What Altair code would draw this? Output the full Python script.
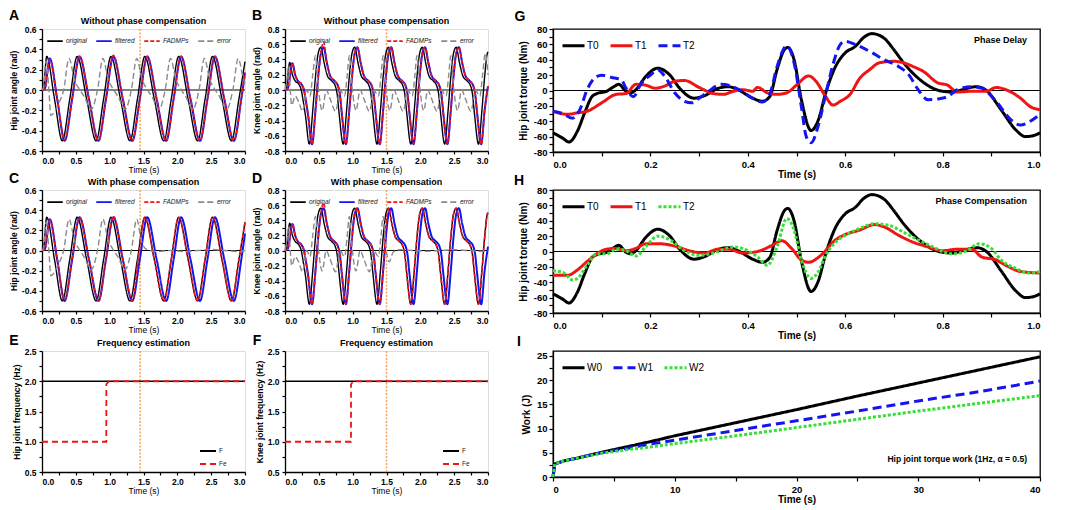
import altair as alt
import pandas as pd

FONT = "Liberation Sans"

# ---------------- tick values ----------------
X3_TICKS = [0.0, 0.25, 0.5, 0.75, 1.0, 1.25, 1.5, 1.75, 2.0, 2.25, 2.5, 2.75, 3.0]
HIP_Y_TICKS = [-0.6, -0.5, -0.4, -0.3, -0.2, -0.1, 0.0, 0.1, 0.2, 0.3, 0.4, 0.5, 0.6]
KNEE_Y_TICKS = [-0.8, -0.7, -0.6, -0.5, -0.4, -0.3, -0.2, -0.1, 0.0, 0.1, 0.2, 0.3, 0.4, 0.5, 0.6, 0.7, 0.8]
FREQ_Y_TICKS = [0.5, 0.75, 1.0, 1.25, 1.5, 1.75, 2.0, 2.25, 2.5]
X1_TICKS = [0.0, 0.1, 0.2, 0.3, 0.4, 0.5, 0.6, 0.7, 0.8, 0.9, 1.0]
TORQUE_Y_TICKS = [-80, -70, -60, -50, -40, -30, -20, -10, 0, 10, 20, 30, 40, 50, 60, 70, 80]
WORK_X_TICKS = [0, 5, 10, 15, 20, 25, 30, 35, 40]
WORK_Y_TICKS = [0, 2.5, 5, 7.5, 10, 12.5, 15, 17.5, 20, 22.5, 25]

# ---------------- hip angle (A, C) ----------------
HIP_ORIG_T = [0.00, 0.02, 0.07, 0.185, 0.30, 0.41, 0.52, 0.66, 0.80, 0.91, 1.02, 1.16, 1.30, 1.41,
              1.52, 1.66, 1.80, 1.91, 2.02, 2.16, 2.30, 2.41, 2.52, 2.66, 2.80, 2.91, 3.00]
HIP_ORIG_V = [0.00, 0.01, 0.33, -0.09, -0.50, -0.09, 0.33, -0.09, -0.50, -0.09, 0.33, -0.09, -0.50, -0.09,
              0.33, -0.09, -0.50, -0.09, 0.33, -0.09, -0.50, -0.09, 0.33, -0.09, -0.50, -0.09, 0.28]
HIP_FILT_T = [0.00, 0.04, 0.115, 0.225, 0.335, 0.445, 0.555, 0.695, 0.835, 0.945, 1.055, 1.195, 1.335, 1.445,
              1.555, 1.695, 1.835, 1.945, 2.055, 2.195, 2.335, 2.445, 2.555, 2.695, 2.835, 2.945, 3.00]
HIP_FILT_V = [0.00, 0.01, 0.31, -0.09, -0.50, -0.09, 0.33, -0.09, -0.50, -0.09, 0.33, -0.09, -0.50, -0.09,
              0.33, -0.09, -0.50, -0.09, 0.33, -0.09, -0.50, -0.09, 0.33, -0.09, -0.50, -0.09, 0.17]
HIP_FAD_A_V = [0.00, 0.01, 0.30, -0.09, -0.49, -0.09, 0.33, -0.09, -0.50, -0.09, 0.34, -0.09, -0.50, -0.09,
               0.33, -0.09, -0.50, -0.09, 0.33, -0.09, -0.50, -0.09, 0.33, -0.09, -0.50, -0.09, 0.17]
HIP_FAD_C_T = [0.00, 0.04, 0.115, 0.225, 0.335, 0.445, 0.555, 0.695, 0.835, 0.945, 1.055, 1.195, 1.335, 1.43,
               1.52, 1.66, 1.80, 1.91, 2.02, 2.16, 2.30, 2.41, 2.52, 2.66, 2.80, 2.91, 3.00]
HIP_FAD_C_V = [0.00, 0.01, 0.30, -0.09, -0.49, -0.09, 0.33, -0.09, -0.50, -0.09, 0.34, -0.09, -0.50, -0.04,
               0.33, -0.09, -0.50, -0.09, 0.33, -0.09, -0.50, -0.09, 0.33, -0.09, -0.50, -0.09, 0.28]
HIP_ERR_A_T = [0.00, 0.02, 0.06, 0.10, 0.13, 0.24, 0.32,
               0.40, 0.48, 0.55, 0.62, 0.73, 0.82,
               0.90, 0.98, 1.05, 1.12, 1.23, 1.32,
               1.40, 1.48, 1.55, 1.62, 1.73, 1.82,
               1.90, 1.98, 2.05, 2.12, 2.23, 2.32,
               2.40, 2.48, 2.55, 2.62, 2.73, 2.82,
               2.90, 2.98, 3.00]
HIP_ERR_A_V = [0.00, 0.02, 0.28, 0.02, -0.25, -0.14, 0.00,
               0.31, 0.10, 0.01, -0.06, -0.19, 0.00,
               0.31, 0.10, 0.01, -0.06, -0.19, 0.00,
               0.31, 0.10, 0.01, -0.06, -0.19, 0.00,
               0.31, 0.10, 0.01, -0.06, -0.19, 0.00,
               0.31, 0.10, 0.01, -0.06, -0.19, 0.00,
               0.31, 0.10, 0.07]
HIP_ERR_C_T = [0.00, 0.02, 0.06, 0.10, 0.13, 0.24, 0.32,
               0.40, 0.48, 0.55, 0.62, 0.73, 0.82,
               0.90, 0.98, 1.05, 1.12, 1.23, 1.32,
               1.40, 1.47, 1.55, 1.70, 1.90, 2.10, 2.30, 2.50, 2.70, 2.90, 3.00]
HIP_ERR_C_V = [0.00, 0.02, 0.28, 0.02, -0.25, -0.14, 0.00,
               0.31, 0.10, 0.01, -0.06, -0.19, 0.00,
               0.31, 0.10, 0.01, -0.06, -0.19, 0.00,
               0.31, 0.09, 0.01, -0.01, 0.00, -0.01, 0.00, 0.01, 0.00, -0.01, 0.00]

# ---------------- knee angle (B, D) ----------------
KNEE_ORIG_T = [0.00, 0.02, 0.07, 0.11, 0.15, 0.20, 0.24, 0.27, 0.30, 0.36, 0.41, 0.45, 0.49,
               0.53, 0.58, 0.63, 0.69, 0.74, 0.77, 0.80, 0.86, 0.91, 0.95, 0.99,
               1.03, 1.08, 1.13, 1.19, 1.24, 1.27, 1.30, 1.36, 1.41, 1.45, 1.49,
               1.53, 1.58, 1.63, 1.69, 1.74, 1.77, 1.80, 1.86, 1.91, 1.95, 1.99,
               2.03, 2.08, 2.13, 2.19, 2.24, 2.27, 2.30, 2.36, 2.41, 2.45, 2.49,
               2.53, 2.58, 2.63, 2.69, 2.74, 2.77, 2.80, 2.86, 2.91, 2.95, 2.99,
               3.00]
KNEE_ORIG_V = [0.00, 0.02, 0.36, 0.20, 0.12, 0.08, 0.00, -0.15, -0.32, -0.71, -0.27, 0.17, 0.48,
               0.56, 0.35, 0.18, 0.12, 0.06, -0.05, -0.31, -0.71, -0.27, 0.17, 0.48,
               0.56, 0.35, 0.18, 0.12, 0.06, -0.05, -0.31, -0.71, -0.27, 0.17, 0.48,
               0.56, 0.35, 0.18, 0.12, 0.06, -0.05, -0.31, -0.71, -0.27, 0.17, 0.48,
               0.56, 0.35, 0.18, 0.12, 0.06, -0.05, -0.31, -0.71, -0.27, 0.17, 0.48,
               0.56, 0.35, 0.18, 0.12, 0.06, -0.05, -0.31, -0.71, -0.27, 0.17, 0.48,
               0.50]
KNEE_FILT_T = [0.00, 0.04, 0.11, 0.15, 0.19, 0.24, 0.28, 0.31, 0.34, 0.40, 0.45, 0.49, 0.53,
               0.57, 0.62, 0.67, 0.73, 0.78, 0.81, 0.84, 0.90, 0.95, 0.99, 1.03,
               1.07, 1.12, 1.17, 1.23, 1.28, 1.31, 1.34, 1.40, 1.45, 1.49, 1.53,
               1.57, 1.62, 1.67, 1.73, 1.78, 1.81, 1.84, 1.90, 1.95, 1.99, 2.03,
               2.07, 2.12, 2.17, 2.23, 2.28, 2.31, 2.34, 2.40, 2.45, 2.49, 2.53,
               2.57, 2.62, 2.67, 2.73, 2.78, 2.81, 2.84, 2.90, 2.95, 3.00]
KNEE_FILT_V = [0.00, 0.02, 0.35, 0.20, 0.12, 0.08, 0.00, -0.15, -0.32, -0.71, -0.27, 0.17, 0.48,
               0.56, 0.35, 0.18, 0.12, 0.06, -0.05, -0.31, -0.71, -0.27, 0.17, 0.48,
               0.56, 0.35, 0.18, 0.12, 0.06, -0.05, -0.31, -0.71, -0.27, 0.17, 0.48,
               0.56, 0.35, 0.18, 0.12, 0.06, -0.05, -0.31, -0.71, -0.27, 0.17, 0.48,
               0.56, 0.35, 0.18, 0.12, 0.06, -0.05, -0.31, -0.71, -0.27, 0.17, 0.48,
               0.56, 0.35, 0.18, 0.12, 0.06, -0.05, -0.31, -0.71, -0.27, 0.05]
KNEE_FAD_B_V = [0.00, 0.02, 0.35, 0.20, 0.12, 0.08, 0.00, -0.15, -0.32, -0.71, -0.27, 0.17, 0.48,
                0.63, 0.35, 0.18, 0.12, 0.06, -0.05, -0.31, -0.71, -0.27, 0.17, 0.48,
                0.56, 0.35, 0.18, 0.12, 0.06, -0.05, -0.31, -0.71, -0.27, 0.17, 0.48,
                0.56, 0.35, 0.18, 0.12, 0.06, -0.05, -0.31, -0.71, -0.27, 0.17, 0.48,
                0.56, 0.35, 0.18, 0.12, 0.06, -0.05, -0.31, -0.71, -0.27, 0.17, 0.48,
                0.56, 0.35, 0.18, 0.12, 0.06, -0.05, -0.31, -0.71, -0.27, 0.05]
KNEE_FAD_D_T = [0.00, 0.04, 0.11, 0.15, 0.19, 0.24, 0.28, 0.31, 0.34, 0.40, 0.45, 0.49, 0.53,
                0.57, 0.62, 0.67, 0.73, 0.78, 0.81, 0.84, 0.90, 0.95, 0.99, 1.03,
                1.07, 1.12, 1.17, 1.23, 1.28, 1.31, 1.34, 1.40, 1.45, 1.49, 1.53,
                1.58, 1.63, 1.69, 1.74, 1.77, 1.80, 1.86, 1.91, 1.95, 1.99,
                2.03, 2.08, 2.13, 2.19, 2.24, 2.27, 2.30, 2.36, 2.41, 2.45, 2.49,
                2.53, 2.58, 2.63, 2.69, 2.74, 2.77, 2.80, 2.86, 2.91, 2.95, 2.99,
                3.00]
KNEE_FAD_D_V = [0.00, 0.02, 0.35, 0.20, 0.12, 0.08, 0.00, -0.15, -0.32, -0.71, -0.27, 0.17, 0.48,
                0.63, 0.35, 0.18, 0.12, 0.06, -0.05, -0.31, -0.71, -0.27, 0.17, 0.48,
                0.56, 0.35, 0.18, 0.12, 0.06, -0.05, -0.31, -0.71, -0.27, 0.30, 0.56,
                0.35, 0.18, 0.12, 0.06, -0.05, -0.31, -0.71, -0.27, 0.17, 0.48,
                0.56, 0.35, 0.18, 0.12, 0.06, -0.05, -0.31, -0.71, -0.27, 0.17, 0.48,
                0.56, 0.35, 0.18, 0.12, 0.06, -0.05, -0.31, -0.71, -0.27, 0.17, 0.48,
                0.50]
KNEE_ERR_B_T = [0.00, 0.03, 0.05, 0.10, 0.15, 0.20, 0.26, 0.32, 0.37, 0.41,
                0.45, 0.49, 0.55, 0.61, 0.66, 0.75, 0.81, 0.88, 0.92,
                0.95, 0.99, 1.05, 1.11, 1.16, 1.25, 1.31, 1.38, 1.42,
                1.45, 1.49, 1.55, 1.61, 1.66, 1.75, 1.81, 1.88, 1.92,
                1.95, 1.99, 2.05, 2.11, 2.16, 2.25, 2.31, 2.38, 2.42,
                2.45, 2.49, 2.55, 2.61, 2.66, 2.75, 2.81, 2.88, 2.92,
                2.96, 3.00]
KNEE_ERR_B_V = [0.00, 0.15, 0.30, -0.20, -0.08, -0.15, -0.28, 0.00, -0.08, 0.20,
                0.45, 0.05, -0.27, 0.00, -0.10, -0.28, 0.00, -0.08, 0.20,
                0.45, 0.05, -0.27, 0.00, -0.10, -0.28, 0.00, -0.08, 0.20,
                0.45, 0.05, -0.27, 0.00, -0.10, -0.28, 0.00, -0.08, 0.20,
                0.45, 0.05, -0.27, 0.00, -0.10, -0.28, 0.00, -0.08, 0.20,
                0.45, 0.05, -0.27, 0.00, -0.10, -0.28, 0.00, -0.08, 0.20,
                0.48, 0.20]
KNEE_ERR_D_T = [0.00, 0.03, 0.05, 0.10, 0.15, 0.20, 0.26, 0.32, 0.37, 0.41,
                0.45, 0.49, 0.55, 0.61, 0.66, 0.75, 0.81, 0.88, 0.92,
                0.95, 0.99, 1.05, 1.11, 1.16, 1.25, 1.31, 1.38, 1.42,
                1.45, 1.49, 1.54, 1.60, 1.70, 1.90, 2.10, 2.30, 2.50, 2.70, 2.90, 3.00]
KNEE_ERR_D_V = [0.00, 0.15, 0.30, -0.20, -0.08, -0.15, -0.28, 0.00, -0.08, 0.20,
                0.45, 0.05, -0.27, 0.00, -0.10, -0.28, 0.00, -0.08, 0.20,
                0.45, 0.05, -0.27, 0.00, -0.10, -0.28, 0.00, -0.08, 0.20,
                0.45, 0.05, -0.15, -0.02, 0.01, 0.00, -0.01, 0.00, 0.01, 0.00, -0.01, 0.00]

# ---------------- frequency estimation (E, F) ----------------
F_T = [0.0, 3.0]
F_V = [2.0, 2.0]
FE_E_T = [0.0, 0.95, 0.951, 0.99, 3.0]
FE_E_V = [1.0, 1.0, 1.95, 2.0, 2.0]
FE_F_T = [0.0, 0.975, 0.976, 1.01, 3.0]
FE_F_V = [1.0, 1.0, 1.95, 2.0, 2.0]

# ---------------- hip torque (G, H) ----------------
T0_T = [0.00, 0.02, 0.033, 0.05, 0.065, 0.08, 0.09, 0.11, 0.125, 0.135, 0.15, 0.16, 0.17, 0.19, 0.215,
        0.24, 0.26, 0.29, 0.31, 0.34, 0.36, 0.38, 0.41, 0.43, 0.445, 0.46, 0.475, 0.482, 0.495, 0.51,
        0.53, 0.545, 0.56, 0.58, 0.60, 0.62, 0.64, 0.655, 0.68, 0.70, 0.72, 0.75, 0.78, 0.80, 0.82,
        0.84, 0.87, 0.89, 0.92, 0.95, 0.97, 0.99, 1.00]
T0_V = [-55, -62, -67, -53, -29, -8, -4, -1, 5, 8, -1, -3, 1, 18, 29,
        20, 3, -10, -7, 3, 5, 1, -10, -14, -8, 27, 53, 56, 40, -12,
        -52, -38, -3, 31, 49, 57, 70, 74, 68, 53, 36, 16, 3, -1, -2,
        1, 5, 0, -25, -51, -60, -58, -55]
T1_DELAY_T = [0.00, 0.03, 0.05, 0.07, 0.10, 0.13, 0.15, 0.17, 0.19, 0.21, 0.23, 0.25, 0.27, 0.30, 0.33,
              0.35, 0.37, 0.39, 0.41, 0.42, 0.44, 0.46, 0.48, 0.50, 0.525, 0.54, 0.56, 0.575, 0.59, 0.61,
              0.63, 0.65, 0.67, 0.70, 0.72, 0.74, 0.76, 0.79, 0.81, 0.83, 0.86, 0.89, 0.91, 0.93, 0.96,
              0.98, 1.00]
T1_DELAY_V = [-27, -31, -29, -27, -16, -5, -4, 8, 7, 3, 6, 12, 13, 4, -4,
              -5, -1, 1, -1, 4, -3, -5, -3, 7, 19, 12, -8, -19, -14, -5,
              16, 27, 36, 38, 36, 31, 25, 10, 7, -2, -1, -1, 4, 1, -10,
              -21, -25]
T2_DELAY_T = [0.00, 0.02, 0.04, 0.055, 0.07, 0.085, 0.10, 0.12, 0.14, 0.15, 0.165, 0.18, 0.20, 0.215, 0.23,
              0.25, 0.27, 0.285, 0.30, 0.32, 0.345, 0.37, 0.39, 0.41, 0.43, 0.445, 0.46, 0.48, 0.495, 0.51,
              0.52, 0.53, 0.545, 0.56, 0.575, 0.59, 0.60, 0.62, 0.65, 0.68, 0.71, 0.73, 0.75, 0.77, 0.79,
              0.81, 0.83, 0.86, 0.88, 0.91, 0.94, 0.96, 0.98, 1.00]
T2_DELAY_V = [-27, -30, -36, -25, 1, 16, 20, 17, 14, 3, -8, 8, 20, 27, 18,
              -3, -14, -16, -10, -1, 8, 5, -2, -10, -15, -5, 31, 58, 36, -21,
              -60, -68, -45, -5, 34, 60, 64, 60, 51, 40, 31, 21, 1, -12, -11,
              -8, 1, 5, 3, -14, -38, -45, -40, -31]
T1_COMP_T = [0.00, 0.03, 0.05, 0.07, 0.09, 0.11, 0.13, 0.15, 0.17, 0.19, 0.22, 0.25, 0.28, 0.31, 0.34,
             0.36, 0.39, 0.42, 0.45, 0.47, 0.49, 0.51, 0.525, 0.55, 0.58, 0.60, 0.63, 0.66, 0.68, 0.71,
             0.74, 0.77, 0.80, 0.83, 0.86, 0.88, 0.91, 0.93, 0.96, 1.00]
T1_COMP_V = [-31, -31, -24, -13, -3, 3, 4, 1, 4, 10, 10, 7, 1, -2, 3,
             3, -2, 0, 8, 14, 4, -11, -14, -5, 15, 22, 28, 35, 32, 21,
             12, 6, 1, 3, 3, -7, -11, -18, -26, -28]
T2_COMP_T = [0.00, 0.02, 0.04, 0.05, 0.07, 0.09, 0.11, 0.13, 0.15, 0.17, 0.19, 0.215, 0.24, 0.27, 0.30,
             0.33, 0.37, 0.40, 0.42, 0.44, 0.46, 0.48, 0.495, 0.51, 0.53, 0.545, 0.56, 0.58, 0.60, 0.63,
             0.66, 0.69, 0.72, 0.75, 0.78, 0.80, 0.82, 0.85, 0.875, 0.90, 0.92, 0.95, 0.98, 1.00]
T2_COMP_V = [-25, -27, -37, -35, -18, -3, -3, 3, 1, -6, 6, 20, 15, 1, -5,
             -2, 6, 1, -7, -18, 6, 43, 28, -11, -35, -26, -5, 12, 21, 30,
             36, 34, 25, 15, 6, 0, -3, 1, 10, 4, -11, -22, -28, -26]

# ---------------- work (I) ----------------
W_T = [0, 0.15, 1, 2, 3, 4, 6, 8, 10, 15, 20, 25, 30, 35, 40]
W0_V = [0, 2.7, 3.4, 3.9, 4.5, 5.1, 6.2, 7.3, 8.5, 11.2, 13.9, 16.7, 19.4, 22.1, 24.8]
W1_V = [0, 2.7, 3.4, 3.9, 4.5, 5.0, 5.9, 6.8, 7.6, 9.6, 11.6, 13.6, 15.7, 17.6, 19.8]
W2_V = [0, 2.7, 3.4, 3.9, 4.4, 4.9, 5.6, 6.2, 6.9, 8.5, 10.2, 11.9, 13.6, 15.2, 16.8]

ANGLE_SERIES = ["original", "filtered", "FADMPs", "error"]
FREQ_SERIES = ["F", "Fe"]
TORQUE_SERIES = ["T0", "T1", "T2"]
WORK_SERIES = ["W0", "W1", "W2"]

# ---------------- styling ----------------
BLACK, BLUE, RED, GRAY = "#000000", "#1414f0", "#f01414", "#8a8a8a"
GREEN, ORANGE = "#33e033", "#f2a45c"
MINUS = "\u2212"


def series_df(ts, vs, name):
    n = min(len(ts), len(vs))
    return pd.DataFrame({"t": list(ts[:n]), "v": list(vs[:n]), "s": [name] * n})


def axis_left(values, expr, title, x=False):
    common = dict(values=values, labelExpr=expr, title=title, domainColor="black", domainWidth=1.3,
                  tickColor="black", tickWidth=1.2, tickSize=3, labelFont=FONT, labelFontSize=8.5,
                  labelFontWeight="bold", labelColor="black", labelOverlap=False, grid=False,
                  titleFont=FONT, titleColor="black", titleFontSize=8.5)
    if x:
        return alt.Axis(labelPadding=2, titleFontWeight="normal", titlePadding=1, **common)
    return alt.Axis(labelPadding=3, titleFontWeight="bold", titlePadding=3, **common)


def axis_right(values, expr, title, x=False):
    common = dict(values=values, labelExpr=expr, title=title, domainColor="black", domainWidth=1.3,
                  tickColor="black", tickWidth=1.2, tickSize=4, labelFont=FONT, labelFontSize=9.5,
                  labelFontWeight="bold", labelColor="black", labelOverlap=False, grid=False,
                  titleFont=FONT, titleColor="black", titleFontSize=10, titleFontWeight="bold")
    if x:
        return alt.Axis(labelPadding=3, titlePadding=1, **common)
    return alt.Axis(labelPadding=2, titlePadding=5, **common)


def line_layers(items, xsc, ysc, xax, yax, dom, colors, dashes, legend):
    out = []
    for name, ts, vs, w, interp in items:
        out.append(
            alt.Chart(series_df(ts, vs, name)).mark_line(strokeWidth=w, interpolate=interp).encode(
                x=alt.X("t:Q", scale=xsc, axis=xax),
                y=alt.Y("v:Q", scale=ysc, axis=yax),
                color=alt.Color("s:N", scale=alt.Scale(domain=dom, range=colors), legend=legend),
                strokeDash=alt.StrokeDash("s:N", scale=alt.Scale(domain=dom, range=dashes), legend=legend),
            )
        )
    return out


def hrule(val, ysc, yax, color=BLACK, width=1.0):
    return alt.Chart(pd.DataFrame({"v": [val]})).mark_rule(color=color, strokeWidth=width).encode(
        y=alt.Y("v:Q", scale=ysc, axis=yax))


def vrule(val, xsc, xax):
    return alt.Chart(pd.DataFrame({"t": [val]})).mark_rule(
        color=ORANGE, strokeWidth=1.5, strokeDash=[2, 1.5]).encode(x=alt.X("t:Q", scale=xsc, axis=xax))


def text_layer(txt, dx, dy, size, align="center", weight="bold"):
    return alt.Chart(pd.DataFrame({"lab": [txt]})).mark_text(
        font=FONT, fontSize=size, fontWeight=weight, align=align, baseline="middle", color="black"
    ).encode(x=alt.value(dx), y=alt.value(dy), text="lab:N")


def letter(ch, dx, dy):
    return text_layer(ch, dx, dy, 14)


TENTHS_EXPR = "round(datum.value*10) % 2 == 0 ? replace(format(datum.value, '.1f'), '" + MINUS + "', '-') : ''"
HALF_EXPR = "datum.value % 0.5 == 0 ? format(datum.value, '.1f') : ''"

ANGLE_LEGEND = alt.Legend(title=None, orient="none", legendX=4, legendY=3, direction="horizontal",
                          labelFont=FONT, labelFontSize=6.5, labelFontStyle="italic", labelColor="#222",
                          symbolType="stroke", symbolSize=240, symbolStrokeWidth=1.8,
                          columnPadding=5, labelOffset=2, padding=0)


def angle_panel(ch, ldx, ldy, title, ytitle, ydom, yticks, vline, items, h):
    xsc = alt.Scale(domain=[0, 3], nice=False, zero=False)
    ysc = alt.Scale(domain=ydom, nice=False, zero=False)
    xax = axis_left(X3_TICKS, HALF_EXPR, "Time (s)", x=True)
    yax = axis_left(yticks, TENTHS_EXPR, ytitle)
    layers = [hrule(0, ysc, yax), vrule(vline, xsc, xax)]
    layers += line_layers(items, xsc, ysc, xax, yax, ANGLE_SERIES,
                          [BLACK, BLUE, RED, GRAY], [[1, 0], [1, 0], [4, 2], [6, 3]], ANGLE_LEGEND)
    layers.append(letter(ch, ldx, ldy))
    layers.append(text_layer(title, 101.5, -8, 9))
    return alt.layer(*layers).properties(width=203, height=h)


def freq_panel(ch, ldx, ldy, ytitle, vline, fe_t, fe_v, h):
    xsc = alt.Scale(domain=[0, 3], nice=False, zero=False)
    ysc = alt.Scale(domain=[0.5, 2.5], nice=False, zero=False)
    xax = axis_left(X3_TICKS, HALF_EXPR, "Time (s)", x=True)
    yax = axis_left(FREQ_Y_TICKS, HALF_EXPR, ytitle)
    leg = alt.Legend(title=None, orient="none", legendX=157, legendY=91, direction="vertical",
                     labelFont=FONT, labelFontSize=6.5, labelColor="#222", symbolType="stroke",
                     symbolSize=256, symbolStrokeWidth=1.8, rowPadding=0, labelOffset=2, padding=0)
    items = [("F", F_T, F_V, 1.5, "linear"), ("Fe", fe_t, fe_v, 1.8, "linear")]
    layers = [vrule(vline, xsc, xax)]
    layers += line_layers(items, xsc, ysc, xax, yax, FREQ_SERIES, [BLACK, RED], [[1, 0], [6, 4]], leg)
    layers.append(letter(ch, ldx, ldy))
    layers.append(text_layer("Frequency estimation", 101.5, -8, 9))
    return alt.layer(*layers).properties(width=203, height=h)


def right_legend():
    return alt.Legend(title=None, orient="none", legendX=8, legendY=4, direction="horizontal",
                      labelFont=FONT, labelFontSize=10, labelColor="black", symbolType="stroke",
                      symbolSize=484, symbolStrokeWidth=3, columnPadding=5, labelOffset=1, padding=0)


def torque_panel(ch, ldx, ldy, txt, t1, t2, t2color, t2dash, h):
    xsc = alt.Scale(domain=[0, 1], nice=False, zero=False)
    ysc = alt.Scale(domain=[-80, 80], nice=False, zero=False)
    xax = axis_right(X1_TICKS, "round(datum.value*10) % 2 == 0 ? format(datum.value, '.1f') : ''",
                     "Time (s)", x=True)
    yax = axis_right(TORQUE_Y_TICKS,
                     "datum.value % 20 == 0 ? replace(format(datum.value, 'd'), '" + MINUS + "', '-') : ''",
                     "Hip joint torque (Nm)")
    items = [("T0", T0_T, T0_V, 3, "monotone"), ("T1", t1[0], t1[1], 3, "monotone"),
             ("T2", t2[0], t2[1], 3, "monotone")]
    layers = [hrule(0, ysc, yax)]
    layers += line_layers(items, xsc, ysc, xax, yax, TORQUE_SERIES, [BLACK, RED, t2color],
                          [[1, 0], [1, 0], t2dash], right_legend())
    layers.append(text_layer(txt, 474, 11, 9, align="right"))
    layers.append(letter(ch, ldx, ldy))
    return alt.layer(*layers).properties(
        width=487, height=h, view=alt.ViewBackground(stroke="black", strokeWidth=1.3))


def work_panel(h):
    xsc = alt.Scale(domain=[0, 40], nice=False, zero=False)
    ysc = alt.Scale(domain=[0, 26], nice=False, zero=False)
    xax = axis_right(WORK_X_TICKS, "datum.value % 10 == 0 ? format(datum.value, 'd') : ''", "Time (s)", x=True)
    yax = axis_right(WORK_Y_TICKS, "datum.value % 5 == 0 ? format(datum.value, 'd') : ''", "Work (J)")
    items = [("W0", W_T, W0_V, 3, "linear"), ("W1", W_T, W1_V, 3, "linear"), ("W2", W_T, W2_V, 3, "linear")]
    layers = line_layers(items, xsc, ysc, xax, yax, WORK_SERIES, [BLACK, BLUE, GREEN],
                         [[1, 0], [9, 5], [3, 2]], right_legend())
    layers.append(text_layer("Hip joint torque work (1Hz, \u03b1 = 0.5)", 474, 108, 8.5, align="right"))
    layers.append(letter("I", -34, -9))
    return alt.layer(*layers).properties(
        width=487, height=h, view=alt.ViewBackground(stroke="black", strokeWidth=1.3))


A = angle_panel("A", -28, -13, "Without phase compensation", "Hip joint angle (rad)", [-0.6, 0.6], HIP_Y_TICKS, 1.45,
                [("original", HIP_ORIG_T, HIP_ORIG_V, 1.4, "monotone"),
                 ("filtered", HIP_FILT_T, HIP_FILT_V, 2.0, "monotone"),
                 ("FADMPs", HIP_FILT_T, HIP_FAD_A_V, 1.7, "monotone"),
                 ("error", HIP_ERR_A_T, HIP_ERR_A_V, 1.4, "monotone")], 122)
C = angle_panel("C", -28, -11, "With phase compensation", "Hip joint angle (rad)", [-0.6, 0.6], HIP_Y_TICKS, 1.45,
                [("original", HIP_ORIG_T, HIP_ORIG_V, 1.4, "monotone"),
                 ("filtered", HIP_FILT_T, HIP_FILT_V, 2.0, "monotone"),
                 ("FADMPs", HIP_FAD_C_T, HIP_FAD_C_V, 1.7, "monotone"),
                 ("error", HIP_ERR_C_T, HIP_ERR_C_V, 1.4, "monotone")], 121)
B = angle_panel("B", -28, -13, "Without phase compensation", "Knee joint angle (rad)", [-0.8, 0.8], KNEE_Y_TICKS, 1.5,
                [("original", KNEE_ORIG_T, KNEE_ORIG_V, 1.4, "monotone"),
                 ("filtered", KNEE_FILT_T, KNEE_FILT_V, 2.0, "monotone"),
                 ("FADMPs", KNEE_FILT_T, KNEE_FAD_B_V, 1.7, "monotone"),
                 ("error", KNEE_ERR_B_T, KNEE_ERR_B_V, 1.4, "monotone")], 122)
D = angle_panel("D", -28, -11, "With phase compensation", "Knee joint angle (rad)", [-0.8, 0.8], KNEE_Y_TICKS, 1.5,
                [("original", KNEE_ORIG_T, KNEE_ORIG_V, 1.4, "monotone"),
                 ("filtered", KNEE_FILT_T, KNEE_FILT_V, 2.0, "monotone"),
                 ("FADMPs", KNEE_FAD_D_T, KNEE_FAD_D_V, 1.7, "monotone"),
                 ("error", KNEE_ERR_D_T, KNEE_ERR_D_V, 1.4, "monotone")], 121)
E = freq_panel("E", -28, -10, "Hip joint frequency (Hz)", 1.45, FE_E_T, FE_E_V, 121)
F = freq_panel("F", -28, -10, "Knee joint frequency (Hz)", 1.5, FE_F_T, FE_F_V, 121)

G = torque_panel("G", -33, -12, "Phase Delay", (T1_DELAY_T, T1_DELAY_V), (T2_DELAY_T, T2_DELAY_V),
                 BLUE, [9, 5], 123)
H = torque_panel("H", -34, -9, "Phase Compensation", (T1_COMP_T, T1_COMP_V), (T2_COMP_T, T2_COMP_V),
                 GREEN, [3, 2], 123)
I = work_panel(126)


def spacer(w):
    return alt.Chart(pd.DataFrame({"a": [0]})).mark_point(opacity=0).properties(width=w, height=1)


chart = alt.concat(
    A, spacer(1), B, spacer(26), G,
    C, spacer(1), D, spacer(26), H,
    E, spacer(1), F, spacer(26), I,
    columns=5, spacing={"row": 38, "column": 19.5}, bounds="flush",
).resolve_scale(color="independent", strokeDash="independent").properties(
    padding={"left": 0, "top": 0, "right": 0, "bottom": 0}
).configure_view(strokeWidth=0).configure(font=FONT, background="white")

chart.save("out.html", embed_options={"renderer": "svg", "actions": False})
